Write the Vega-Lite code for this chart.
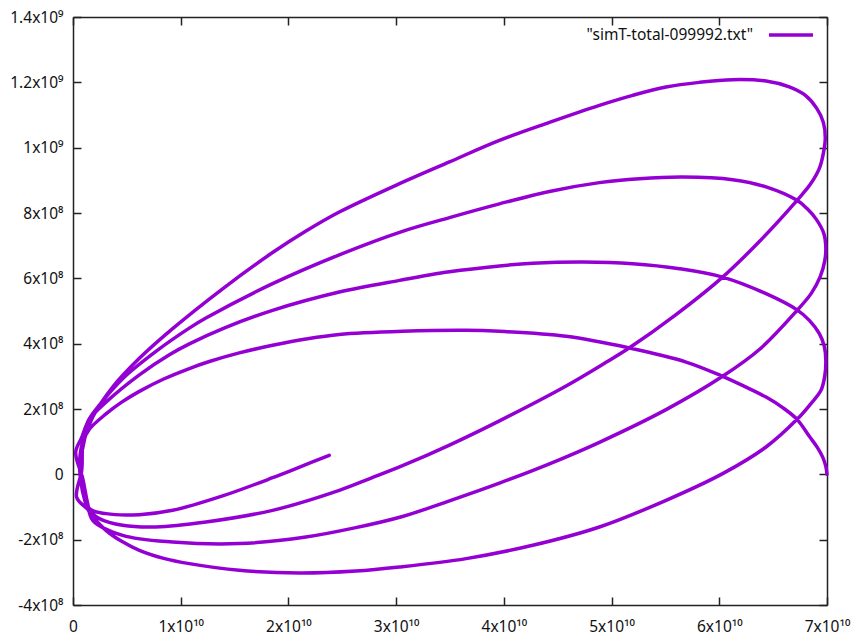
{
  "$schema": "https://vega.github.io/schema/vega-lite/v6.json",
  "width": 754,
  "height": 588,
  "autosize": {"type": "none"},
  "padding": {"left": 73, "top": 17, "right": 28, "bottom": 30},
  "background": "white",
  "config": {"view": {"stroke": null}, "font": "Noto Sans"},
  "data": {"values": [
    {"i":0,"x":7.0e10,"y":0},
    {"i":1,"x":6.989e10,"y":0.245e8},
    {"i":2,"x":6.961e10,"y":0.52e8},
    {"i":3,"x":6.910e10,"y":0.826e8},
    {"i":4,"x":6.836e10,"y":1.163e8},
    {"i":5,"x":6.722e10,"y":1.683e8},
    {"i":6,"x":6.585e10,"y":2.051e8},
    {"i":7,"x":6.434e10,"y":2.366e8},
    {"i":8,"x":6.233e10,"y":2.694e8},
    {"i":9,"x":6.031e10,"y":3.0e8},
    {"i":10,"x":5.692e10,"y":3.437e8},
    {"i":11,"x":5.166e10,"y":3.866e8},
    {"i":12,"x":4.578e10,"y":4.224e8},
    {"i":13,"x":3.959e10,"y":4.377e8},
    {"i":14,"x":3.650e10,"y":4.408e8},
    {"i":15,"x":3.059e10,"y":4.377e8},
    {"i":16,"x":2.472e10,"y":4.28e8},
    {"i":17,"x":2.162e10,"y":4.14e8},
    {"i":18,"x":1.853e10,"y":3.949e8},
    {"i":19,"x":1.544e10,"y":3.717e8},
    {"i":20,"x":1.266e10,"y":3.453e8},
    {"i":21,"x":1.080e10,"y":3.239e8},
    {"i":22,"x":0.842e10,"y":2.918e8},
    {"i":23,"x":0.616e10,"y":2.54e8},
    {"i":24,"x":0.452e10,"y":2.21e8},
    {"i":25,"x":0.306e10,"y":1.85e8},
    {"i":26,"x":0.152e10,"y":1.38e8},
    {"i":27,"x":0.090e10,"y":0.979e8},
    {"i":28,"x":0.062e10,"y":0.429e8},
    {"i":29,"x":0.071e10,"y":-0.184e8},
    {"i":30,"x":0.109e10,"y":-0.796e8},
    {"i":31,"x":0.152e10,"y":-1.154e8},
    {"i":32,"x":0.306e10,"y":-1.714e8},
    {"i":33,"x":0.452e10,"y":-2.051e8},
    {"i":34,"x":0.616e10,"y":-2.326e8},
    {"i":35,"x":0.842e10,"y":-2.571e8},
    {"i":36,"x":1.080e10,"y":-2.733e8},
    {"i":37,"x":1.544e10,"y":-2.938e8},
    {"i":38,"x":2.101e10,"y":-3.021e8},
    {"i":39,"x":2.626e10,"y":-2.960e8},
    {"i":40,"x":3.031e10,"y":-2.837e8},
    {"i":41,"x":3.650e10,"y":-2.580e8},
    {"i":42,"x":4.268e10,"y":-2.173e8},
    {"i":43,"x":4.887e10,"y":-1.613e8},
    {"i":44,"x":5.506e10,"y":-0.796e8},
    {"i":45,"x":6.031e10,"y":0.021e8},
    {"i":46,"x":6.434e10,"y":0.836e8},
    {"i":47,"x":6.722e10,"y":1.683e8},
    {"i":48,"x":6.845e10,"y":2.143e8},
    {"i":49,"x":6.944e10,"y":2.571e8},
    {"i":50,"x":6.980e10,"y":3.030e8},
    {"i":51,"x":6.989e10,"y":3.489e8},
    {"i":52,"x":6.975e10,"y":3.918e8},
    {"i":53,"x":6.929e10,"y":4.307e8},
    {"i":54,"x":6.836e10,"y":4.714e8},
    {"i":55,"x":6.722e10,"y":5.035e8},
    {"i":56,"x":6.434e10,"y":5.531e8},
    {"i":57,"x":6.031e10,"y":6.039e8},
    {"i":58,"x":5.630e10,"y":6.296e8},
    {"i":59,"x":5.196e10,"y":6.449e8},
    {"i":60,"x":4.732e10,"y":6.498e8},
    {"i":61,"x":4.268e10,"y":6.46e8},
    {"i":62,"x":3.959e10,"y":6.38e8},
    {"i":63,"x":3.495e10,"y":6.20e8},
    {"i":64,"x":3.031e10,"y":5.938e8},
    {"i":65,"x":2.472e10,"y":5.580e8},
    {"i":66,"x":1.853e10,"y":5.020e8},
    {"i":67,"x":1.408e10,"y":4.486e8},
    {"i":68,"x":1.080e10,"y":3.994e8},
    {"i":69,"x":0.895e10,"y":3.661e8},
    {"i":70,"x":0.616e10,"y":3.047e8},
    {"i":71,"x":0.306e10,"y":2.21e8},
    {"i":72,"x":0.152e10,"y":1.687e8},
    {"i":73,"x":0.081e10,"y":1.133e8},
    {"i":74,"x":0.025e10,"y":0.673e8},
    {"i":75,"x":0.090e10,"y":-0.122e8},
    {"i":76,"x":0.136e10,"y":-0.888e8},
    {"i":77,"x":0.183e10,"y":-1.408e8},
    {"i":78,"x":0.461e10,"y":-1.867e8},
    {"i":79,"x":0.925e10,"y":-2.072e8},
    {"i":80,"x":1.544e10,"y":-2.121e8},
    {"i":81,"x":2.162e10,"y":-1.919e8},
    {"i":82,"x":2.614e10,"y":-1.64e8},
    {"i":83,"x":3.059e10,"y":-1.29e8},
    {"i":84,"x":3.495e10,"y":-0.811e8},
    {"i":85,"x":3.959e10,"y":-0.269e8},
    {"i":86,"x":4.423e10,"y":0.321e8},
    {"i":87,"x":4.887e10,"y":0.980e8},
    {"i":88,"x":5.506e10,"y":1.98e8},
    {"i":89,"x":6.031e10,"y":3.0e8},
    {"i":90,"x":6.372e10,"y":3.82e8},
    {"i":91,"x":6.722e10,"y":5.020e8},
    {"i":92,"x":6.854e10,"y":5.540e8},
    {"i":93,"x":6.938e10,"y":6.061e8},
    {"i":94,"x":6.980e10,"y":6.550e8},
    {"i":95,"x":6.989e10,"y":6.948e8},
    {"i":96,"x":6.970e10,"y":7.377e8},
    {"i":97,"x":6.901e10,"y":7.805e8},
    {"i":98,"x":6.817e10,"y":8.127e8},
    {"i":99,"x":6.722e10,"y":8.387e8},
    {"i":100,"x":6.434e10,"y":8.800e8},
    {"i":101,"x":6.124e10,"y":9.021e8},
    {"i":102,"x":5.660e10,"y":9.100e8},
    {"i":103,"x":5.258e10,"y":9.05e8},
    {"i":104,"x":4.887e10,"y":8.93e8},
    {"i":105,"x":4.423e10,"y":8.66e8},
    {"i":106,"x":3.959e10,"y":8.28e8},
    {"i":107,"x":3.495e10,"y":7.86e8},
    {"i":108,"x":3.059e10,"y":7.44e8},
    {"i":109,"x":2.472e10,"y":6.72e8},
    {"i":110,"x":1.853e10,"y":5.837e8},
    {"i":111,"x":1.234e10,"y":4.785e8},
    {"i":112,"x":1.083e10,"y":4.483e8},
    {"i":113,"x":0.770e10,"y":3.763e8},
    {"i":114,"x":0.461e10,"y":2.929e8},
    {"i":115,"x":0.245e10,"y":2.12e8},
    {"i":116,"x":0.136e10,"y":1.6e8},
    {"i":117,"x":0.090e10,"y":0.888e8},
    {"i":118,"x":0.081e10,"y":0.122e8},
    {"i":119,"x":0.034e10,"y":-0.704e8},
    {"i":120,"x":0.127e10,"y":-1.041e8},
    {"i":121,"x":0.245e10,"y":-1.356e8},
    {"i":122,"x":0.461e10,"y":-1.561e8},
    {"i":123,"x":0.770e10,"y":-1.613e8},
    {"i":124,"x":1.234e10,"y":-1.460e8},
    {"i":125,"x":1.853e10,"y":-1.102e8},
    {"i":126,"x":2.472e10,"y":-0.490e8},
    {"i":127,"x":2.762e10,"y":-0.122e8},
    {"i":128,"x":3.059e10,"y":0.264e8},
    {"i":129,"x":3.495e10,"y":0.896e8},
    {"i":130,"x":3.959e10,"y":1.638e8},
    {"i":131,"x":4.578e10,"y":2.705e8},
    {"i":132,"x":4.949e10,"y":3.428e8},
    {"i":133,"x":5.166e10,"y":3.873e8},
    {"i":134,"x":5.592e10,"y":4.874e8},
    {"i":135,"x":6.031e10,"y":6.037e8},
    {"i":136,"x":6.372e10,"y":7.128e8},
    {"i":137,"x":6.722e10,"y":8.388e8},
    {"i":138,"x":6.845e10,"y":8.877e8},
    {"i":139,"x":6.929e10,"y":9.366e8},
    {"i":140,"x":6.966e10,"y":9.826e8},
    {"i":141,"x":6.984e10,"y":10.285e8},
    {"i":142,"x":6.966e10,"y":10.774e8},
    {"i":143,"x":6.905e10,"y":11.203e8},
    {"i":144,"x":6.799e10,"y":11.601e8},
    {"i":145,"x":6.650e10,"y":11.861e8},
    {"i":146,"x":6.434e10,"y":12.039e8},
    {"i":147,"x":6.124e10,"y":12.081e8},
    {"i":148,"x":5.815e10,"y":11.999e8},
    {"i":149,"x":5.506e10,"y":11.855e8},
    {"i":150,"x":5.196e10,"y":11.601e8},
    {"i":151,"x":4.887e10,"y":11.295e8},
    {"i":152,"x":4.423e10,"y":10.774e8},
    {"i":153,"x":3.959e10,"y":10.223e8},
    {"i":154,"x":3.495e10,"y":9.565e8},
    {"i":155,"x":3.031e10,"y":8.898e8},
    {"i":156,"x":2.472e10,"y":8.03e8},
    {"i":157,"x":2.159e10,"y":7.44e8},
    {"i":158,"x":1.853e10,"y":6.79e8},
    {"i":159,"x":1.389e10,"y":5.68e8},
    {"i":160,"x":0.925e10,"y":4.46e8},
    {"i":161,"x":0.616e10,"y":3.551e8},
    {"i":162,"x":0.368e10,"y":2.672e8},
    {"i":163,"x":0.183e10,"y":1.754e8},
    {"i":164,"x":0.109e10,"y":1.102e8},
    {"i":165,"x":0.071e10,"y":0.275e8},
    {"i":166,"x":0.090e10,"y":-0.490e8},
    {"i":167,"x":0.152e10,"y":-1.050e8},
    {"i":168,"x":0.306e10,"y":-1.203e8},
    {"i":169,"x":0.616e10,"y":-1.234e8},
    {"i":170,"x":0.925e10,"y":-1.102e8},
    {"i":171,"x":1.389e10,"y":-0.661e8},
    {"i":172,"x":1.853e10,"y":-0.104e8},
    {"i":173,"x":2.104e10,"y":0.222e8},
    {"i":174,"x":2.379e10,"y":0.58e8}
  ]},
  "layer": [
    {
      "mark": {"type": "line", "strokeWidth": 3.5, "strokeJoin": "round", "strokeCap": "round", "interpolate": "catmull-rom"},
      "encoding": {
        "x": {"field": "x", "type": "quantitative",
          "scale": {"domain": [0, 7e10], "nice": false, "zero": false},
          "axis": {"orient": "bottom", "title": null, "grid": false,
            "values": [0, 1e10, 2e10, 3e10, 4e10, 5e10, 6e10, 7e10],
            "labelExpr": "datum.value == 0 ? '0' : (datum.value / 1e10) + 'x10¹⁰'",
            "tickSize": -8, "tickWidth": 1.5, "tickColor": "#222",
            "domainColor": "#222", "domainWidth": 1.5,
            "labelPadding": 22, "labelFontSize": 15.5, "labelFont": "Noto Sans", "labelColor": "#111",
            "labelFlush": false, "labelOverlap": false}},
        "y": {"field": "y", "type": "quantitative",
          "scale": {"domain": [-4e8, 1.4e9], "nice": false, "zero": false},
          "axis": {"orient": "left", "title": null, "grid": false,
            "values": [-4e8, -2e8, 0, 2e8, 4e8, 6e8, 8e8, 1e9, 1.2e9, 1.4e9],
            "labelExpr": "datum.value == 0 ? '0' : (abs(datum.value) >= 1e9 ? (datum.value / 1e9) + 'x10⁹' : (datum.value / 1e8) + 'x10⁸')",
            "tickSize": -8, "tickWidth": 1.5, "tickColor": "#222",
            "domainColor": "#222", "domainWidth": 1.5,
            "labelPadding": 18, "labelFontSize": 15.5, "labelFont": "Noto Sans", "labelColor": "#111",
            "labelFlush": false, "labelOverlap": false}},
        "order": {"field": "i", "type": "quantitative"},
        "color": {"datum": "\"simT-total-099992.txt\"", "type": "nominal",
          "scale": {"range": ["#9400D3"]},
          "legend": {"title": null, "orient": "none", "legendX": 694, "legendY": -6,
            "symbolType": "stroke", "symbolSize": 1936, "symbolStrokeWidth": 3.5,
            "labelAlign": "right", "labelOffset": -62, "labelFontSize": 15.5,
            "labelFont": "Noto Sans", "labelColor": "#111", "labelLimit": 400, "padding": 0}}
      }
    },
    {
      "mark": {"type": "line", "opacity": 0},
      "encoding": {
        "x": {"field": "x", "type": "quantitative",
          "axis": {"orient": "top", "title": null, "grid": false, "labels": false,
            "values": [0, 1e10, 2e10, 3e10, 4e10, 5e10, 6e10, 7e10],
            "tickSize": -8, "tickWidth": 1.5, "tickColor": "#222",
            "domainColor": "#222", "domainWidth": 1.5}},
        "y": {"field": "y", "type": "quantitative",
          "axis": {"orient": "right", "title": null, "grid": false, "labels": false,
            "values": [-4e8, -2e8, 0, 2e8, 4e8, 6e8, 8e8, 1e9, 1.2e9, 1.4e9],
            "tickSize": -8, "tickWidth": 1.5, "tickColor": "#222",
            "domainColor": "#222", "domainWidth": 1.5}},
        "order": {"field": "i", "type": "quantitative"}
      }
    }
  ],
  "resolve": {"axis": {"x": "independent", "y": "independent"}}
}
